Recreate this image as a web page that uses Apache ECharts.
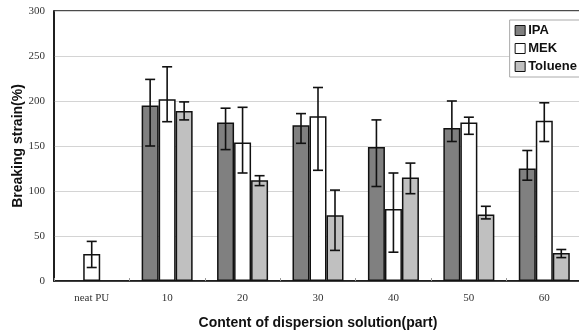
<!DOCTYPE html>
<html>
<head>
<meta charset="utf-8">
<script src="https://cdn.jsdelivr.net/npm/echarts@6/dist/echarts.min.js"></script>
<style>
  html, body { margin: 0; padding: 0; background: #fff; }
  #chart { width: 579px; height: 332px; }
</style>
</head>
<body>
<div id="chart"></div>
<script>
"use strict";

// data
var categories = ['neat PU', '10', '20', '30', '40', '50', '60'];
var seriesNames = ['IPA', 'MEK', 'Toluene'];
var ipaValues = [null, 195, 176, 173, 149, 170, 125];
var ipaLow = [null, 150, 146, 153, 105, 155, 112];
var ipaHigh = [null, 224, 192, 186, 179, 200, 145];
var mekValues = [30, 202, 154, 183, 80, 176, 178];
var mekLow = [15, 177, 120, 123, 32, 163, 155];
var mekHigh = [44, 238, 193, 215, 120, 182, 198];
var tolValues = [null, 189, 112, 73, 115, 74, 31];
var tolLow = [null, 179, 106, 34, 97, 69, 26];
var tolHigh = [null, 199, 117, 101, 131, 83, 35];
var yTicks = [0, 50, 100, 150, 200, 250, 300];

var BAR_W = 17;
var colors = ['#808080', '#ffffff', '#c0c0c0'];

function errorData(low, high) {
  var out = [];
  for (var i = 0; i < low.length; i++) {
    if (low[i] != null) out.push([i, low[i], high[i]]);
  }
  return out;
}

function errorSeries(low, high, offset) {
  return {
    type: 'custom',
    data: errorData(low, high),
    z: 5,
    silent: true,
    renderItem: function (params, api) {
      var lo = api.coord([api.value(0), api.value(1)]);
      var hi = api.coord([api.value(0), api.value(2)]);
      var x = lo[0] + offset;
      var cap = 5;
      var style = { stroke: '#111', lineWidth: 1.6 };
      return {
        type: 'group',
        children: [
          { type: 'line', shape: { x1: x, y1: hi[1], x2: x, y2: lo[1] }, style: style },
          { type: 'line', shape: { x1: x - cap, y1: hi[1], x2: x + cap, y2: hi[1] }, style: style },
          { type: 'line', shape: { x1: x - cap, y1: lo[1], x2: x + cap, y2: lo[1] }, style: style }
        ]
      };
    }
  };
}

function barSeries(name, values, color) {
  return {
    name: name,
    type: 'bar',
    data: values,
    barWidth: BAR_W,
    barGap: '0%',
    itemStyle: { color: color, borderColor: '#111', borderWidth: 1.5 }
  };
}

var chart = echarts.init(document.getElementById('chart'));

var option = {
  backgroundColor: '#ffffff',
  animation: false,
  grid: {
    left: 54, top: 11, width: 528, bottom: 51,
    outerBoundsMode: 'none',
    containLabel: false,
    show: true, borderColor: '#111', borderWidth: 1.5, backgroundColor: 'transparent'
  },
  legend: {
    data: seriesNames,
    orient: 'vertical',
    right: -8,
    top: 20,
    icon: 'rect',
    itemWidth: 10,
    itemHeight: 10,
    itemGap: 5,
    padding: [4, 10, 4, 5],
    borderColor: '#aaa',
    borderWidth: 1,
    backgroundColor: '#fff',
    textStyle: { fontFamily: 'Liberation Sans', fontWeight: 'bold', fontSize: 13, color: '#111', padding: [0, 0, 0, -2] },
    itemStyle: { borderColor: '#111', borderWidth: 1 }
  },
  xAxis: {
    type: 'category',
    data: categories,
    name: 'Content of dispersion solution(part)',
    nameLocation: 'middle',
    nameGap: 35,
    nameMoveOverlap: false,
    nameTextStyle: { fontFamily: 'Liberation Sans', fontWeight: 'bold', fontSize: 14, color: '#111' },
    axisLine: { lineStyle: { color: '#111', width: 1.5 } },
    axisTick: { show: true, inside: true, length: 3, lineStyle: { color: '#999' } },
    axisLabel: { fontFamily: 'Liberation Serif', fontSize: 11, color: '#333', margin: 12 }
  },
  yAxis: {
    type: 'value',
    min: yTicks[0],
    max: yTicks[yTicks.length - 1],
    interval: 50,
    name: 'Breaking strain(%)',
    nameLocation: 'middle',
    nameGap: 29,
    nameMoveOverlap: false,
    nameTextStyle: { fontFamily: 'Liberation Sans', fontWeight: 'bold', fontSize: 14, color: '#111' },
    axisLine: { show: true, lineStyle: { color: '#111', width: 1.5 } },
    axisTick: { show: false },
    axisLabel: { fontFamily: 'Liberation Serif', fontSize: 11, color: '#333', margin: 9 },
    splitLine: { lineStyle: { color: '#d4d4d4', width: 1 } }
  },
  series: [
    barSeries(seriesNames[0], ipaValues, colors[0]),
    barSeries(seriesNames[1], mekValues, colors[1]),
    barSeries(seriesNames[2], tolValues, colors[2]),
    errorSeries(ipaLow, ipaHigh, -BAR_W),
    errorSeries(mekLow, mekHigh, 0),
    errorSeries(tolLow, tolHigh, BAR_W)
  ]
};

chart.setOption(option);
</script>
</body>
</html>
